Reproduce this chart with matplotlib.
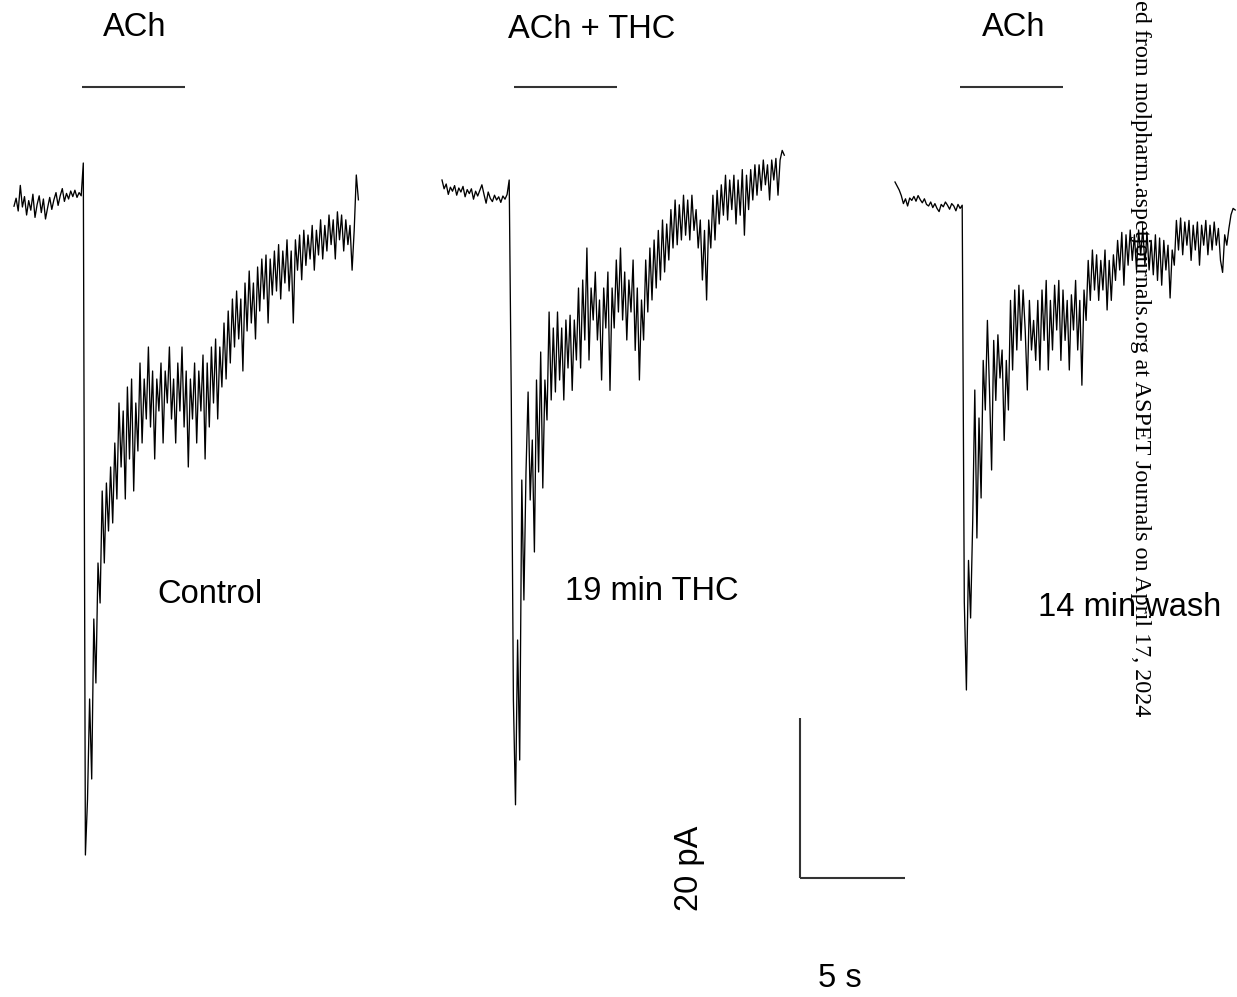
import numpy as np
import matplotlib
matplotlib.use("Agg")
import matplotlib.pyplot as plt

# ---------------------------
# Data (currents in pA relative to baseline, sampled every 0.1 s)
# ---------------------------
dt = 0.1  # s

control = [
    -0.4, 0.6, -1.0, 2.2, -0.5, 0.8, -1.5, 0.3, -0.9, 1.1, -1.8, -0.2, 0.9, -1.2, 0.5, -2.0,
    -0.6, 0.7, -0.8, 0.4, 1.3, -0.3, 0.9, 1.8, 0.2, 1.2, 0.5, 1.5, 0.8, 1.6, 0.7, 1.3, 0.9,
    5.0, -81.5,
    -74.6, -62, -72, -52, -60, -45, -50, -36, -45, -35, -41, -33, -40, -30, -37, -25, -33, -26,
    -37, -23, -32, -22, -36, -25, -31, -20, -30, -22, -27, -18, -28, -21, -32, -22, -26, -20,
    -30, -21, -25, -18, -27, -22, -30, -20, -26, -18, -28, -21, -33, -22, -27, -20, -30, -21,
    -26, -19, -32, -20, -28, -18, -25, -17, -27, -18, -23, -15, -22, -13.5, -20, -12, -18, -11,
    -17, -12, -21, -10, -16, -8.5, -15, -10, -17, -8, -13.5, -7, -12, -6.5, -15, -7, -11.5, -6,
    -11, -5.2, -12, -6, -10, -4.6, -11, -6, -15, -4.6, -8.4, -4, -9.6, -3.4, -7.8, -4, -7, -2.8,
    -8.4, -3.4, -6.5, -2.1, -7, -2.8, -6, -1.5, -5.2, -2.1, -7, -1.1, -4.6, -1.5, -6, -2.1,
    -5.2, -2.8, -8.4, -3.4, 3.5, 0.4,
]

thc = [
    1.5, 0.4, 1.0, -0.3, 0.6, 0.1, 0.8, -0.4, 0.5, 0.0, 0.7, -0.6, 0.3, -0.2, 0.4, -0.9,
    0.1, -0.5, 0.2, 0.9, -0.3, -1.4, 0.0, -0.8, -1.2, -0.4, -1.0, -0.6, -1.3, -0.5, -0.9, -0.3,
    1.5,
    -26, -63.5, -76.6, -56, -71, -36, -51, -35, -25, -38.5, -31, -45, -23.5, -35, -20, -37,
    -23.5, -28.5, -15, -26, -17, -25, -15, -23.5, -17, -26, -16, -22, -15.4, -24.8, -16, -21,
    -12, -22, -11, -18.5, -7, -21, -12, -16, -10, -18.5, -13.5, -23.5, -12, -17, -10, -24.8,
    -12, -17, -8.5, -15, -7, -16, -10, -18.5, -11, -15, -8.5, -19.8, -12, -23.5, -13.5, -18.5,
    -8.5, -15, -7, -13.5, -6, -12, -4.8, -11, -3.5, -10, -4, -8.5, -2.2, -7, -1, -6.6, -1.6,
    -6, -0.4, -5.4, -1, -6, -0.4, -4.8, -2.2, -7, -3.5, -11, -4.8, -13.5, -3.5, -7, -0.4, -6,
    0.2, -4, 0.9, -2.9, 2.1, -3.5, 1.5, -2.2, 2.1, -4, 1.5, -2.9, 2.8, -5.4, 2.1, -2.2, 2.8,
    -1, 3.4, -0.4, 3.4, 0.2, 4, 0.9, 3.4, -1, 4, 1.5, 4.2, -0.4, 4, 5.2, 4.6,
]

wash = [
    2.5, 2.0, 1.5, 0.8, -0.2, 0.4, -0.5, 0.5, 0.2, 0.7, 0.1, 0.8, 0.3, -0.1, 0.4, -0.3, -0.5,
    0.0, -0.7, -0.2, -0.8, -1.2, -0.3, -0.6, 0.0, -0.4, -0.9, -0.2, -0.5, -1.1, -0.3, -0.8, -0.4,
    -50, -61, -44.8, -52, -40, -23.5, -42, -27, -37, -19.8, -26, -14.8, -23.5, -33.5, -17.3,
    -24.8, -16.6, -22, -18.5, -29.8, -19.8, -26, -12.3, -21, -11, -18.5, -10.4, -17.3, -11, -16,
    -23.5, -12.3, -18.5, -14.8, -19.8, -12.3, -21, -11, -17.3, -9.8, -21, -12.3, -18.5, -10.4,
    -16, -9.8, -19.8, -11, -17.3, -12.3, -21, -11.6, -16, -9.8, -18.5, -12.3, -22.9, -11, -14.8,
    -7.3, -12.3, -6, -11, -6.6, -12.3, -7.3, -11, -6, -13.5, -7.3, -12.3, -6.6, -9.8, -4.8, -8.5,
    -3.8, -10.4, -4.1, -7.9, -3.5, -7.3, -4.1, -8.5, -3.5, -6.6, -3.3, -7.9, -3.8, -8.5, -4.8,
    -9.1, -4.1, -9.8, -4.5, -10.4, -4.8, -8.5, -5.4, -12, -6, -7.9, -2.3, -6, -2, -6.6, -2.5,
    -5.4, -2.3, -7.3, -2.9, -6, -2.5, -7.9, -2.9, -5.4, -2.3, -6.6, -2.9, -6, -2.5, -5.4, -3.3,
    -7.3, -8.8, -4.1, -5.4, -3.3, -1.6, -0.8, -1,
]

traces = [control, thc, wash]
drug_labels = ["ACh", "ACh + THC", "ACh"]
cond_labels = ["Control", "19 min THC", "14 min wash"]
stim_start = [3.25, 3.43, 3.1]   # s after trace start
stim_dur = 4.9                   # s

# ---------------------------
# Layout (1 s = 21 px, 1 pA = 8 px)
# ---------------------------
W, H = 1237, 997
PX_S, PX_PA = 21.0, 8.0
trace_x0 = [14, 442, 895]        # px
trace_base = [203, 192, 202]     # px
cond_xy = [(210, 594), (652, 592), (1130, 607)]
drug_xy = [(135, 28), (592, 30), (1014, 28)]

fig = plt.figure(figsize=(W / 100, H / 100), dpi=100)
ax = fig.add_axes([0, 0, 1, 1])
ax.set_xlim(0, W / PX_S)
ax.set_ylim(-H / PX_PA, 0)
ax.axis("off")

font = "Liberation Sans"

def fx(px):
    return px / W

def fy(py):
    return 1 - py / H

for i, vals in enumerate(traces):
    t = np.arange(len(vals)) * dt
    x0 = trace_x0[i] / PX_S
    y0 = -trace_base[i] / PX_PA
    ax.plot(x0 + t, y0 + np.array(vals), color="black", lw=0.95)
    # ACh application bar
    ax.plot([x0 + stim_start[i], x0 + stim_start[i] + stim_dur], [-87 / PX_PA] * 2,
            color="#333333", lw=1.5, solid_capstyle="butt")
    ax.text(fx(drug_xy[i][0]), fy(drug_xy[i][1]), drug_labels[i], transform=ax.transAxes,
            ha="center", va="center", fontsize=23.5, family=font)
    ax.text(fx(cond_xy[i][0]), fy(cond_xy[i][1]), cond_labels[i], transform=ax.transAxes,
            ha="center", va="center", fontsize=23.5, family=font)

# scale bar: 5 s / 20 pA
sx, sy = 800 / PX_S, -878 / PX_PA
ax.plot([sx, sx], [sy, sy + 20], color="#333333", lw=1.5, solid_capstyle="butt")
ax.plot([sx, sx + 5], [sy, sy], color="#333333", lw=1.5, solid_capstyle="butt")
ax.text(fx(690), fy(868), "20 pA", transform=ax.transAxes, rotation=90,
        ha="center", va="center", fontsize=23.5, family=font)
ax.text(fx(840), fy(978), "5 s", transform=ax.transAxes,
        ha="center", va="center", fontsize=23.5, family=font)

# journal watermark running down the right side (only the visible part)
ax.text(fx(1140), fy(716), "ed from molpharm.aspetjournals.org at ASPET Journals on April 17, 2024",
        transform=ax.transAxes, rotation=-90, ha="center", va="bottom",
        fontsize=17.4, family="Liberation Serif")

fig.savefig("out.png", dpi=100)
